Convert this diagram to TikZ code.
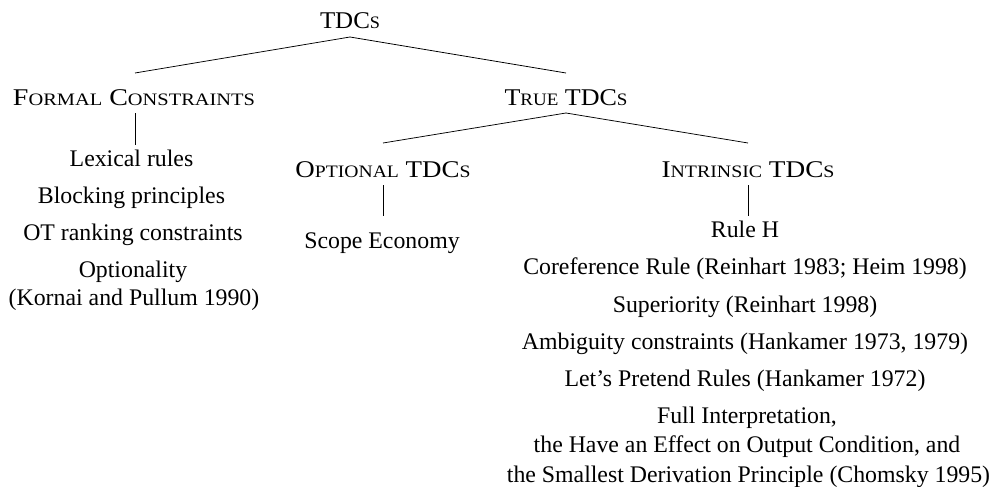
\documentclass[tikz,border=0pt]{standalone}
\usepackage{fontspec}
\usepackage{graphicx}
\setmainfont{Liberation Serif}
\usetikzlibrary{calc}
% faked small capitals: full capitals plus reduced capitals
\newcommand\smc[1]{{\fontsize{17.5}{18}\selectfont #1}}
% set a category label at a given width, keeping its height
\newcommand\catlabel[2]{\resizebox{#1}{\height}{#2}}
\tikzset{
  item/.style={anchor=base, inner sep=0pt, font=\fontsize{23.8}{25}\selectfont},
  cat/.style={anchor=base, inner sep=0pt, font=\fontsize{24}{25}\selectfont},
  edge/.style={draw=black, line width=0.75pt}
}
\begin{document}
\begin{tikzpicture}[x=1pt, y=-1pt]
\useasboundingbox (0,0) rectangle (994,487);

% categories
\node[cat] (root) at (350,29) {\catlabel{60pt}{TDC\smc{S}}};
\node[cat] (formal) at (134,106) {\catlabel{242pt}{F\smc{ORMAL} C\smc{ONSTRAINTS}}};
\node[cat] (true) at (566,106) {\catlabel{123pt}{T\smc{RUE} TDC\smc{S}}};
\node[cat] (optional) at (383,177) {\catlabel{175pt}{O\smc{PTIONAL} TDC\smc{S}}};
\node[cat] (intrinsic) at (748,177) {\catlabel{173pt}{I\smc{NTRINSIC} TDC\smc{S}}};

% formal constraints
\node[item] (lex) at (131.5,166) {Lexical rules};
\node[item] (block) at (131.5,203) {Blocking principles};
\node[item] (ot) at (133,240) {OT ranking constraints};
\node[item] (opt) at (133,277) {Optionality};
\node[item] (kp) at (134,305) {(Kornai and Pullum 1990)};

% optional TDCs
\node[item] (scope) at (382,248) {Scope Economy};

% intrinsic TDCs
\node[item] (ruleh) at (745,237) {Rule H};
\node[item] (coref) at (745,274) {Coreference Rule (Reinhart 1983; Heim 1998)};
\node[item] (sup) at (745,312) {Superiority (Reinhart 1998)};
\node[item] (amb) at (745,349) {Ambiguity constraints (Hankamer 1973, 1979)};
\node[item] (lets) at (745,386) {Let’s Pretend Rules (Hankamer 1972)};
\node[item] (full1) at (747,423) {Full Interpretation,};
\node[item] (full2) at (747,452) {the Have an Effect on Output Condition, and};
\node[item] (full3) at (748.5,482) {the Smallest Derivation Principle (Chomsky 1995)};

% branches
\draw[edge] ($(formal.base)+(1,-33)$) -- ($(root.base)+(0,8)$) -- ($(true.base)+(0,-33)$);
\draw[edge] ($(optional.base)+(0,-34)$) -- ($(true.base)+(0,7)$) -- ($(intrinsic.base)+(0,-34)$);
\draw[edge] ($(formal.base)+(1,7)$) -- ($(formal.base |- lex.base)+(1,-21)$);
\draw[edge] ($(optional.base)+(0,8)$) -- ($(optional.base |- scope.base)+(0,-32)$);
\draw[edge] ($(intrinsic.base)+(0,8)$) -- ($(intrinsic.base |- ruleh.base)+(0,-21)$);
\end{tikzpicture}
\end{document}
